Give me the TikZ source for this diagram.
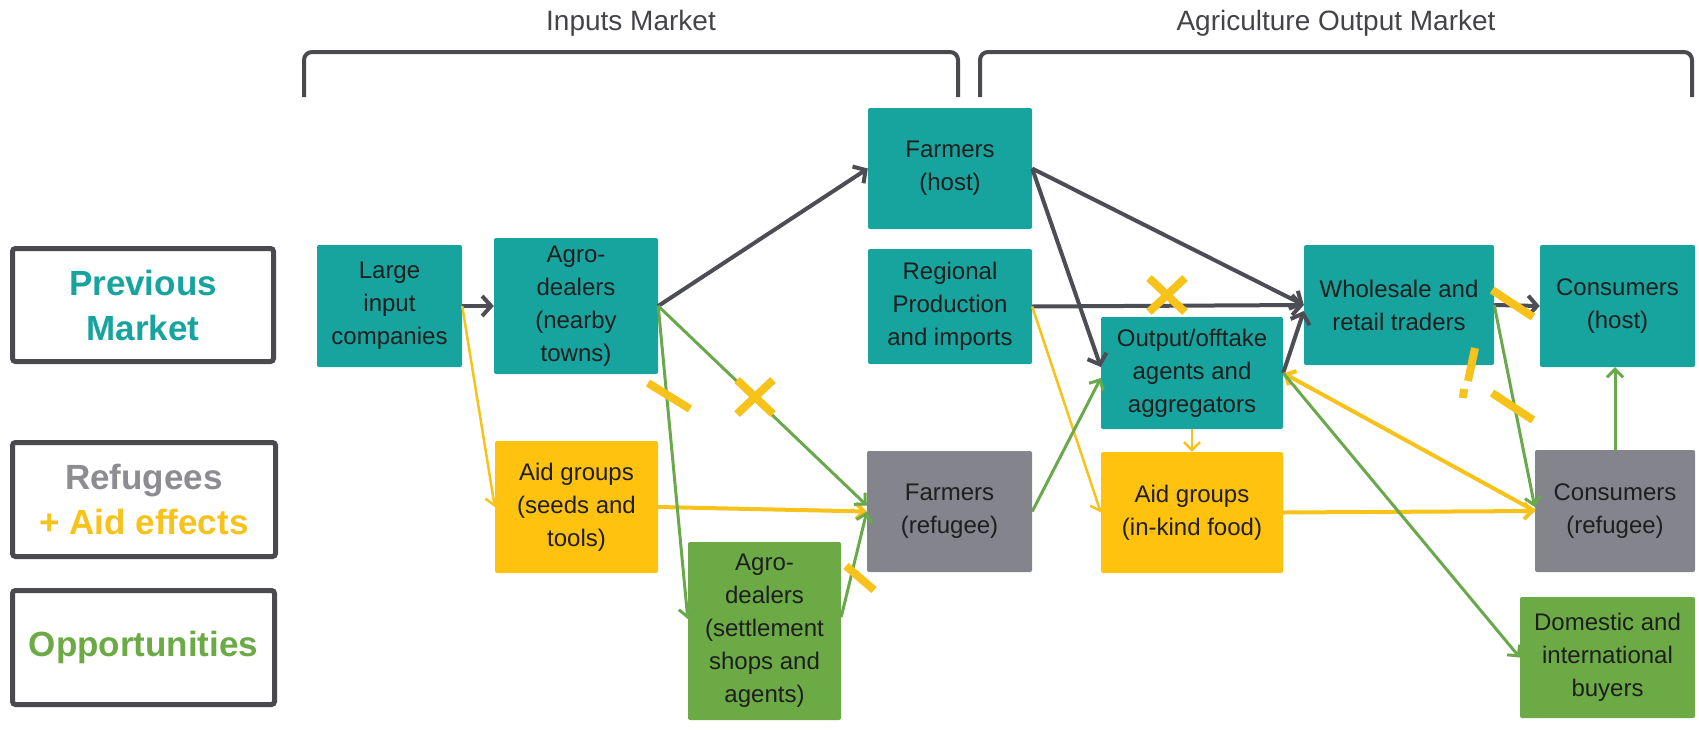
\documentclass[tikz,border=0pt]{standalone}
\usepackage{fontspec}
\setmainfont{Liberation Sans}
\usepackage{xcolor}
\usetikzlibrary{arrows.meta}
\definecolor{boxteal}{HTML}{17A49E}
\definecolor{boxgrey}{HTML}{83848C}
\definecolor{boxyellow}{HTML}{FFC20E}
\definecolor{boxgreen}{HTML}{6BAA45}
\definecolor{linedark}{HTML}{4D4D55}
\definecolor{lineyellow}{HTML}{F7C21A}
\definecolor{linegreen}{HTML}{69A84B}
\definecolor{framegrey}{HTML}{4A4A4E}
\definecolor{textdark}{HTML}{1E1E1E}
\definecolor{headgrey}{HTML}{444448}
\definecolor{labelgrey}{HTML}{8C8C91}
\tikzset{
    market-box/.style = {rectangle, rounded corners=2pt, inner sep=2pt, align=center, text=textdark, font=\fontsize{24}{33}\selectfont},
    teal-box/.style = {market-box, fill=boxteal},
    grey-box/.style = {market-box, fill=boxgrey},
    yellow-box/.style = {market-box, fill=boxyellow},
    green-box/.style = {market-box, fill=boxgreen},
    legend-box/.style = {draw=framegrey, line width=5pt, rounded corners=3pt, fill=white, align=center, font=\fontsize{35}{45}\selectfont\bfseries},
    market-title/.style = {text=headgrey, font=\fontsize{28}{34}\selectfont},
    bracket-line/.style = {draw=framegrey, line width=4pt, rounded corners=8pt},
    dark-arrow/.style = {draw=linedark, line width=4pt, -{Straight Barb[length=9pt,width=20pt]}},
    yellow-arrow/.style = {draw=lineyellow, line width=2.5pt, -{Straight Barb[length=8pt,width=16pt]}},
    thick-yellow-arrow/.style = {yellow-arrow, line width=4pt},
    green-arrow/.style = {draw=linegreen, line width=3pt, -{Straight Barb[length=8pt,width=16pt]}},
    effect-mark/.style = {draw=lineyellow, line width=8pt},
}
\begin{document}
\begin{tikzpicture}[x=1pt,y=-1pt]
\useasboundingbox (0,0) rectangle (1699,734);

% market headers
\node[market-title] (inputs-title) at (631,23) {Inputs Market};
\node[market-title] (output-title) at (1336,23) {Agriculture Output Market};
\draw[bracket-line] (304,97) -- (304,52) -- (958,52) -- (958,97);
\draw[bracket-line] (980,97) -- (980,52) -- (1692,52) -- (1692,97);

% legend
\node[legend-box, text=boxteal, minimum width=261pt, minimum height=113pt] (previous) at (143,305) {Previous\\Market};
\node[legend-box, text=labelgrey, minimum width=263pt, minimum height=114pt] (refugees) at (144,499.5) {Refugees\\{\color{lineyellow}+ Aid effects}};
\node[legend-box, text=boxgreen, minimum width=262pt, minimum height=114pt] (opportunities) at (143.5,647.5) {Opportunities};

% inputs market
\node[teal-box, minimum width=145pt, minimum height=122pt] (large) at (389.5,306) {Large\\input\\companies};
\node[teal-box, minimum width=164pt, minimum height=136pt] (agro) at (576,306) {Agro-\\dealers\\(nearby\\towns)};
\node[yellow-box, minimum width=163pt, minimum height=132pt] (aidseeds) at (576.5,507) {Aid groups\\(seeds and\\tools)};
\node[green-box, minimum width=153pt, minimum height=178pt] (agroset) at (764.5,631) {Agro-\\dealers\\(settlement\\shops and\\agents)};

% farmers
\node[teal-box, minimum width=164pt, minimum height=121pt] (farmhost) at (950,168.5) {Farmers\\(host)};
\node[teal-box, minimum width=164pt, minimum height=115pt] (regional) at (950,306.5) {Regional\\Production\\and imports};
\node[grey-box, minimum width=165pt, minimum height=121pt] (farmref) at (949.5,511.5) {Farmers\\(refugee)};

% output market
\node[teal-box, minimum width=182pt, minimum height=112pt] (output) at (1192,373) {Output/offtake\\agents and\\aggregators};
\node[yellow-box, minimum width=182pt, minimum height=121pt] (aidfood) at (1192,512.5) {Aid groups\\(in-kind food)};
\node[teal-box, minimum width=190pt, minimum height=120pt] (wholesale) at (1399,305) {Wholesale and\\retail traders};
\node[teal-box, minimum width=155pt, minimum height=122pt] (conshost) at (1617.5,306) {Consumers\\(host)};
\node[grey-box, minimum width=160pt, minimum height=122pt] (consref) at (1615,511) {Consumers\\(refugee)};
\node[green-box, minimum width=175pt, minimum height=121pt] (buyers) at (1607.5,657.5) {Domestic and\\international\\buyers};

% previous market flows
\draw[dark-arrow] (large.east) -- (agro.west);
\draw[dark-arrow] (agro.east) -- (farmhost.west);
\draw[dark-arrow] (farmhost.east) -- (wholesale.west);
\draw[dark-arrow] (farmhost.east) -- ([yshift=6pt]output.west);
\draw[dark-arrow] (regional.east) -- (wholesale.west);
\draw[dark-arrow] (output.east) -- ([yshift=-6pt]wholesale.west);
\draw[dark-arrow] (wholesale.east) -- (conshost.west);

% aid flows
\draw[yellow-arrow] (large.east) -- (aidseeds.west);
\draw[thick-yellow-arrow] (aidseeds.east) -- (farmref.west);
\draw[yellow-arrow] (regional.east) -- (aidfood.west);
\draw[yellow-arrow] (output.south) -- (aidfood.north);
\draw[thick-yellow-arrow] (aidfood.east) -- (consref.west);
\draw[thick-yellow-arrow] (consref.west) -- (output.east);

% opportunities
\draw[green-arrow] (agro.east) -- ([yshift=6pt]farmref.west);
\draw[green-arrow] (agro.east) -- ([yshift=12pt]agroset.west);
\draw[green-arrow] ([yshift=14pt]agroset.east) -- (farmref.west);
\draw[green-arrow] (farmref.east) -- ([yshift=-5pt]output.west);
\draw[green-arrow] (output.east) -- (buyers.west);
\draw[green-arrow] (wholesale.east) -- ([yshift=4pt]consref.west);
\draw[green-arrow] (consref.north) -- (consref.north |- conshost.south);

% effect marks
\draw[effect-mark] (648,383) -- (690,409);
\draw[effect-mark] (737,380) -- (773,414) (737,414) -- (773,380);
\draw[effect-mark] (1149,278) -- (1185,312) (1149,312) -- (1185,278);
\draw[effect-mark] (1492,290) -- (1533,317);
\draw[effect-mark] (1475,348) -- (1468,381) (1464,389) -- (1463,398);
\draw[effect-mark] (1492,393) -- (1533,420);
\draw[effect-mark] (846,566) -- (874,590);
\end{tikzpicture}
\end{document}
